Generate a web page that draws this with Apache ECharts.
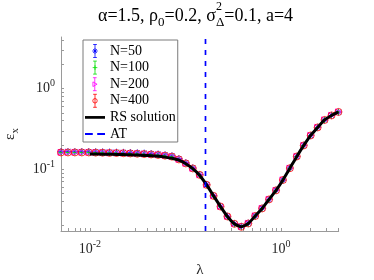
<!DOCTYPE html>
<html><head><meta charset="utf-8">
<script src="https://cdn.jsdelivr.net/npm/echarts@6/dist/echarts.min.js"></script>
<style>html,body{margin:0;padding:0;background:#fff}#c{width:374px;height:280px}</style>
</head><body><div id="c"></div>
<script>
// lambda values (x) for the simulation markers
const lambdaVals = [0.005,0.00591,0.00698,0.00825,0.00975,0.01152,0.01361,0.01609,0.01901,0.02246,0.02654,0.03137,0.03707,0.04380,0.05176,0.06117,0.07228,0.08542,0.1009,0.1193,0.1410,0.1666,0.1969,0.2326,0.2749,0.3249,0.3839,0.4537,0.5361,0.6335,0.7486,0.8847,1.0454,1.2354,1.4599,1.7252,2.0387,2.4092,2.8470,3.3643,3.9757];
const epsN50  = [0.1655,0.1658,0.1652,0.1656,0.1653,0.1648,0.1640,0.1634,0.1628,0.1620,0.1611,0.1598,0.1585,0.1566,0.1545,0.1512,0.1470,0.1358,0.1205,0.1040,0.0860,0.0645,0.0470,0.0346,0.0260,0.0211,0.0195,0.0214,0.0262,0.0328,0.0420,0.0550,0.0733,0.1035,0.1436,0.1980,0.2615,0.3310,0.4075,0.4660,0.5125];
const epsN100 = [0.1610,0.1612,0.1609,0.1611,0.1608,0.1603,0.1598,0.1590,0.1585,0.1577,0.1566,0.1553,0.1539,0.1522,0.1500,0.1470,0.1428,0.1318,0.1176,0.1020,0.0846,0.0636,0.0463,0.0342,0.0257,0.0208,0.0191,0.0210,0.0261,0.0324,0.0420,0.0544,0.0733,0.1025,0.1437,0.1968,0.2620,0.3295,0.4082,0.4645,0.5130];
const epsN200 = [0.1620,0.1618,0.1621,0.1619,0.1617,0.1610,0.1605,0.1596,0.1591,0.1583,0.1572,0.1560,0.1546,0.1529,0.1507,0.1477,0.1436,0.1326,0.1183,0.1026,0.0853,0.0641,0.0468,0.0345,0.0260,0.0211,0.0194,0.0213,0.0264,0.0327,0.0424,0.0548,0.0738,0.1032,0.1445,0.1978,0.2632,0.3308,0.4098,0.4658,0.5148];
const epsN400 = [0.1616,0.1616,0.1616,0.1616,0.1616,0.1607,0.1602,0.1593,0.1589,0.1580,0.1570,0.1557,0.1543,0.1526,0.1504,0.1474,0.1433,0.1323,0.1180,0.1023,0.0850,0.0639,0.0466,0.0344,0.0259,0.0210,0.0193,0.0212,0.0263,0.0326,0.0422,0.0546,0.0736,0.1029,0.1441,0.1974,0.2627,0.3302,0.4090,0.4651,0.5140];
// RS solution curve
const rsLambda = [0.01,0.01152,0.01361,0.01609,0.01901,0.02246,0.02654,0.03137,0.03707,0.04380,0.05176,0.06117,0.07228,0.08542,0.1009,0.1193,0.1410,0.1666,0.1969,0.2326,0.2749,0.3249,0.3839,0.4537,0.5361,0.6335,0.7486,0.8847,1.0454,1.2354,1.4599,1.7252,2.0387,2.4092,2.8470,3.3643,3.9757];
const rsEps = [0.1548,0.1543,0.1539,0.1535,0.1526,0.1518,0.1509,0.1497,0.1484,0.1467,0.1446,0.1413,0.1369,0.1293,0.1170,0.1017,0.0837,0.0639,0.0466,0.0344,0.0259,0.0210,0.0193,0.0212,0.0263,0.0326,0.0422,0.0546,0.0736,0.1029,0.1441,0.1974,0.2627,0.3302,0.4090,0.4651,0.5140];
// AT transition
const atLambda = 0.162;
// axes
const xRange = [0.005, 4];
const yRange = [0.0171, 4.38];
const xTickVals = [0.005,0.006,0.007,0.008,0.009,0.01,0.02,0.03,0.04,0.05,0.06,0.07,0.08,0.09,0.1,0.2,0.3,0.4,0.5,0.6,0.7,0.8,0.9,1,2,3,4];
const xLabelVals = [0.01, 1];
const yTickVals = [0.02,0.03,0.04,0.05,0.06,0.07,0.08,0.09,0.1,0.2,0.3,0.4,0.5,0.6,0.7,0.8,0.9,1,2,3,4];
const yLabelVals = [0.1, 1];
const seriesNames = ['N=50','N=100','N=200','N=400','RS solution','AT'];

const zip = (xs, ys) => xs.map((x, i) => [x, ys[i]]);
const serif = 'Liberation Serif';
const axisGray = '#9a9a9a';
const textCol = '#262626';

const powFmt = v => {
  const e = Math.round(Math.log10(v));
  return '{b|10}{s|' + (e < 0 ? '-' + (-e) : e) + '}';
};
const tickRich = {
  b: {fontSize: 14, fontFamily: serif, color: textCol},
  s: {fontSize: 10, fontFamily: serif, color: textCol, padding: [0, 0, 10, 0]}
};

const sym = {
  star: 'path://M5,0V10M0,5H10M1.5,1.5L8.5,8.5M8.5,1.5L1.5,8.5',
  plus: 'path://M5,0V10M0,5H10',
  tri: 'path://M0,0L10,5L0,10Z'
};
const lg = {
  star: 'path://M3,0H7M5,0V14M3,14H7M2,7H8M5,4V10M3,5L7,9M7,5L3,9',
  plus: 'path://M3,0H7M5,0V14M3,14H7M2.5,7H7.5M5,4.5V9.5',
  tri: 'path://M3,0H7M5,0V14M3,14H7M3,4.5L7.5,7L3,9.5Z',
  circ: 'path://M3,0H7M5,0V14M3,14H7M2.6,7A2.4,2.4 0 1,0 7.4,7A2.4,2.4 0 1,0 2.6,7Z',
  line: 'path://M0,0H22V3H0Z',
  dash: 'path://M0,0H7V2H0ZM11,0H18V2H11Z'
};
const markerSeries = (name, ys, symbol, size, col) => ({
  name, type: 'scatter', data: zip(lambdaVals, ys), symbol, symbolSize: size,
  itemStyle: {color: 'rgba(0,0,0,0)', borderColor: col, borderWidth: 1},
  emphasis: {disabled: true}, silent: true
});

const chart = echarts.init(document.getElementById('c'), null, {renderer: 'canvas'});
chart.setOption({
  animation: false,
  backgroundColor: '#fff',
  title: {
    text: '{b|α=1.5, ρ}{sub|0}{b|=0.2, σ}{sup|2}{sub|Δ}{b|=0.1, a=4}',
    left: 98, top: 1, padding: 0,
    textStyle: {
      fontWeight: 'normal',
      rich: {
        b: {fontSize: 18, fontFamily: serif, fontWeight: 'normal', color: '#000'},
        sub: {fontSize: 13, fontFamily: serif, fontWeight: 'normal', color: '#000', padding: [14, 0, 0, 0]},
        sup: {fontSize: 12, fontFamily: serif, fontWeight: 'normal', color: '#000', padding: [0, 0, 18, 0], width: 0}
      }
    }
  },
  grid: {left: 61, right: 35.3, top: 37, bottom: 49, containLabel: false, outerBoundsMode: 'none'},
  legend: {
    orient: 'vertical', left: 83, top: 40,
    padding: [4, 2, 1, 2], itemGap: 2.6, itemWidth: 20, itemHeight: 13,
    borderColor: '#7a7a7a', borderWidth: 1, backgroundColor: '#fff',
    textStyle: {fontSize: 14, fontFamily: serif, color: '#000', lineHeight: 14},
    selectedMode: false,
    data: [
      {name: seriesNames[0], icon: lg.star, itemStyle: {color: 'rgba(0,0,0,0)', borderColor: '#0000ff', borderWidth: 1}},
      {name: seriesNames[1], icon: lg.plus, itemStyle: {color: 'rgba(0,0,0,0)', borderColor: '#00e000', borderWidth: 1}},
      {name: seriesNames[2], icon: lg.tri, itemStyle: {color: 'rgba(0,0,0,0)', borderColor: '#ff00ff', borderWidth: 1}},
      {name: seriesNames[3], icon: lg.circ, itemStyle: {color: 'rgba(0,0,0,0)', borderColor: '#ff0000', borderWidth: 1}},
      {name: seriesNames[4], icon: lg.line, itemStyle: {color: '#000', borderWidth: 0}},
      {name: seriesNames[5], icon: lg.dash, itemStyle: {color: '#0000ff', borderWidth: 0}}
    ]
  },
  xAxis: {
    type: 'log', min: xRange[0], max: xRange[1],
    name: 'λ', nameLocation: 'middle', nameGap: 32,
    nameTextStyle: {fontSize: 15, fontFamily: serif, color: textCol},
    axisLine: {lineStyle: {color: axisGray, width: 1}},
    axisTick: {inside: true, length: 3, lineStyle: {color: axisGray}, customValues: xTickVals},
    axisLabel: {customValues: xLabelVals, formatter: powFmt, rich: tickRich, margin: 8},
    splitLine: {show: false}, minorTick: {show: false}
  },
  yAxis: {
    type: 'log', min: yRange[0], max: yRange[1],
    name: '{e|ε}{s|x}', nameLocation: 'middle', nameGap: 40, nameRotate: 90,
    nameTextStyle: {rich: {
      e: {fontSize: 15, fontFamily: serif, color: textCol},
      s: {fontSize: 11, fontFamily: serif, color: textCol, padding: [10, 0, 0, 0]}
    }},
    axisLine: {show: true, lineStyle: {color: axisGray, width: 1}},
    axisTick: {show: true, inside: true, length: 3, lineStyle: {color: axisGray}, customValues: yTickVals},
    axisLabel: {customValues: yLabelVals, formatter: powFmt, rich: tickRich, margin: 6},
    splitLine: {show: false}, minorTick: {show: false}
  },
  series: [
    markerSeries(seriesNames[0], epsN50, sym.star, 7, '#0000ff'),
    markerSeries(seriesNames[1], epsN100, sym.plus, 6, '#00e000'),
    markerSeries(seriesNames[2], epsN200, sym.tri, 6, '#ff00ff'),
    markerSeries(seriesNames[3], epsN400, 'circle', 7, '#ff0000'),
    {
      name: seriesNames[4], type: 'line', data: zip(rsLambda, rsEps), showSymbol: false,
      smooth: 0.2, lineStyle: {color: '#000', width: 3}, itemStyle: {color: '#000'},
      emphasis: {disabled: true}, silent: true
    },
    {
      name: seriesNames[5], type: 'line', data: [[atLambda, yRange[0]], [atLambda, yRange[1]]],
      showSymbol: false, lineStyle: {color: '#0000ff', width: 1.7, type: [5, 6]},
      itemStyle: {color: '#0000ff'}, emphasis: {disabled: true}, silent: true
    }
  ]
});
</script>
</body></html>
